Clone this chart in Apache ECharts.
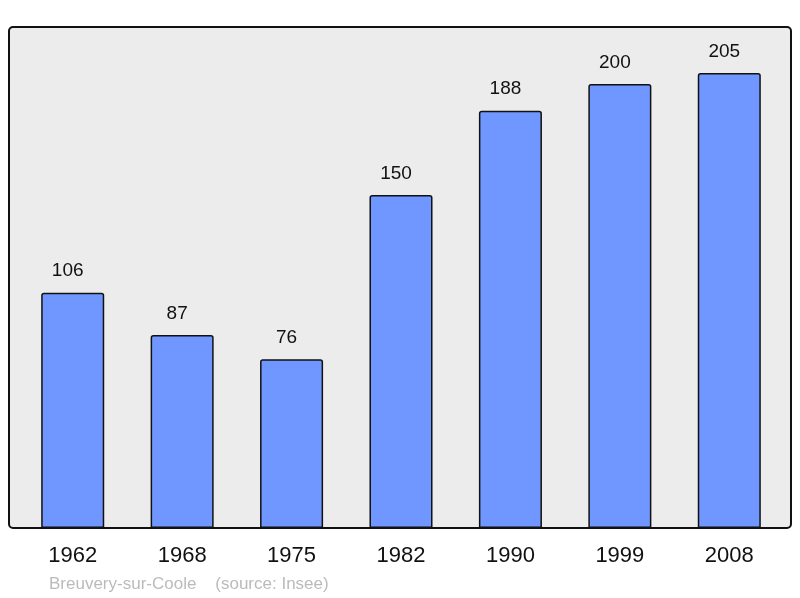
<!DOCTYPE html>
<html>
<head>
<meta charset="utf-8">
<script src="https://cdn.jsdelivr.net/npm/echarts@6/dist/echarts.min.js"></script>
<style>
  html, body { margin: 0; padding: 0; background: #fff; }
  #chart { width: 800px; height: 598px; }
</style>
</head>
<body>
<div id="chart"></div>
<script>
const years = ['1962', '1968', '1975', '1982', '1990', '1999', '2008']
const population = [106, 87, 76, 150, 188, 200, 205]
const caption = 'Breuvery-sur-Coole    (source: Insee)'

const myChart = echarts.init(document.getElementById('chart'))

const option = {
  animation: false,
  backgroundColor: '#ffffff',
  textStyle: { fontFamily: 'Liberation Sans, Arial, sans-serif' },
  graphic: [
    {
      // fond gris du cadre
      type: 'rect',
      z: -10,
      shape: { x: 9, y: 27, width: 782, height: 501, r: 4 },
      style: { fill: '#ececec', stroke: '#111', lineWidth: 2 }
    },
    {
      type: 'text',
      x: 49,
      y: 584,
      style: {
        text: caption,
        fill: '#bbbbbb',
        fontSize: 17,
        verticalAlign: 'middle',
        fontFamily: 'Liberation Sans, Arial, sans-serif'
      }
    }
  ],
  grid: { left: 18, width: 766, top: 27, bottom: 70 },
  xAxis: {
    type: 'category',
    data: years,
    axisLine: { show: false },
    axisTick: { show: false },
    axisLabel: { fontSize: 22, color: '#111', margin: 17 }
  },
  yAxis: {
    type: 'value',
    min: 0,
    max: 225.7,
    show: false,
    splitLine: { show: false }
  },
  series: [{
    type: 'bar',
    data: population,
    barWidth: '57.6%',
    itemStyle: {
      color: '#7097ff',
      borderColor: '#111',
      borderWidth: 1.5,
      borderRadius: [2, 2, 0, 0]
    },
    label: {
      show: true,
      position: 'top',
      distance: 12,
      offset: [-5, 0],
      fontSize: 19,
      color: '#111'
    }
  }]
}

myChart.setOption(option)
</script>
</body>
</html>
